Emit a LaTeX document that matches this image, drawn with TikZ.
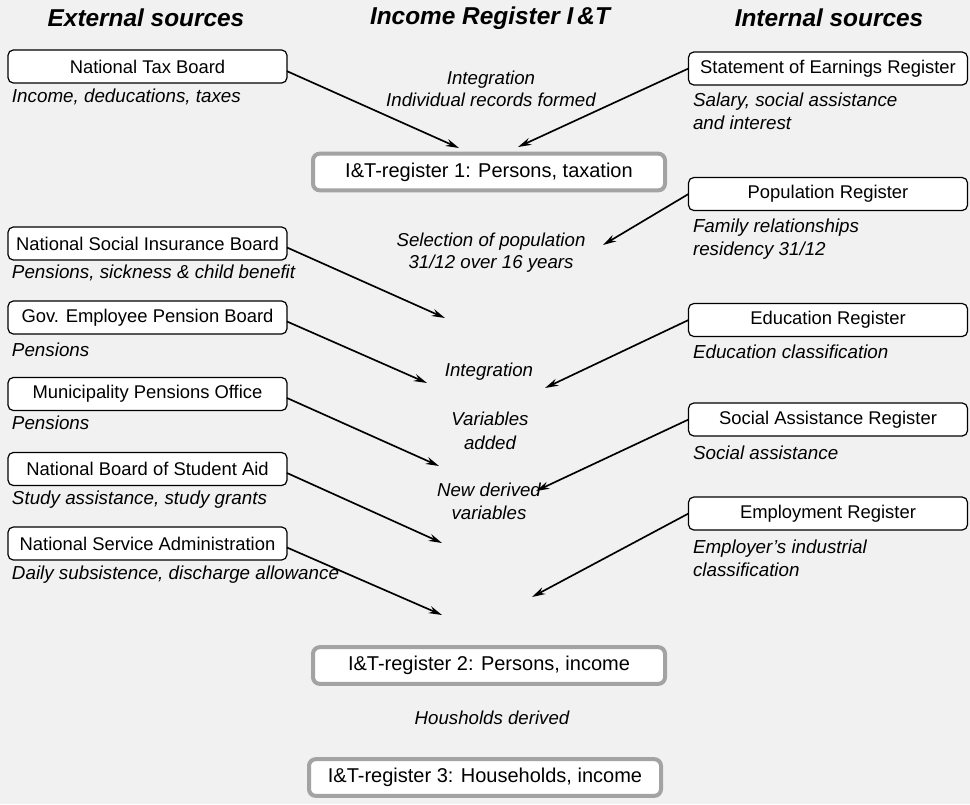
\documentclass[tikz,border=0pt]{standalone}
\usepackage{fontspec}
\setmainfont{Liberation Sans}
\usetikzlibrary{arrows.meta}
\begin{document}
\begin{tikzpicture}[x=0.75pt,y=-0.75pt,
  every node/.style={inner sep=0pt, outer sep=0pt},
  txt/.style={font=\fontsize{13.8pt}{16pt}\selectfont},
  src/.style={txt, draw, fill=white, line width=0.9pt, rounded corners=4pt,
              minimum width=209.25pt, minimum height=24.75pt},
  reg/.style={font=\fontsize{15pt}{17pt}\selectfont, draw=gray!72, line width=3pt,
              fill=white, rounded corners=5pt, minimum width=264pt, minimum height=27.5pt},
  captxt/.style={font=\fontsize{14.1pt}{17.5pt}\selectfont\itshape, anchor=west, align=left},
  mid/.style={font=\fontsize{14pt}{16.5pt}\selectfont\itshape, align=center},
  head/.style={font=\fontsize{18.3pt}{20pt}\selectfont\bfseries\itshape},
  arr/.style={-{Stealth[length=10pt,width=5.5pt]}, line width=1.25pt}]
\fill[gray!11] (0,0) rectangle (970,804);
\useasboundingbox (0,0) rectangle (970,804);

% headings
\node[head] (hext) at (146,18) {External sources};
\node[head] (hinc) at (490,18) {Income Register I\,\&T};
\node[head] (hint) at (829,18) {Internal sources};

% external sources
\node[src] (ntb)  at (147.5,66.5) {National Tax Board};
\node[captxt] (cntb) at (12,97) {Income, deducations, taxes};
\node[src] (nsib) at (147.5,243.5) {National Social Insurance Board};
\node[captxt] (cnsib) at (12,273) {Pensions, sickness \& child benefit};
\node[src] (gepb) at (147.5,317.5) {Gov. Employee Pension Board};
\node[captxt] (cgepb) at (12,350) {Pensions};
\node[src] (mpo)  at (147.5,394) {Municipality Pensions Office};
\node[captxt] (cmpo) at (12,423) {Pensions};
\node[src] (nbsa) at (147.5,469) {National Board of Student Aid};
\node[captxt] (cnbsa) at (12,500) {Study assistance, study grants};
\node[src] (nsa)  at (147.5,543.5) {National Service Administration};
\node[captxt] (cnsa) at (12,575) {Daily subsistence, discharge allowance};

% internal sources
\node[src] (soer) at (828,68.5) {Statement of Earnings Register};
\node[captxt] (csoer) at (693,111.5) {Salary, social assistance\\and interest};
\node[src] (pop)  at (828,194) {Population Register};
\node[captxt] (cpop) at (693,239) {Family relationships\\residency 31/12};
\node[src] (edu)  at (828,320) {Education Register};
\node[captxt] (cedu) at (693,352) {Education classification};
\node[src] (sar)  at (828,419.5) {Social Assistance Register};
\node[captxt] (csar) at (693,453) {Social assistance};
\node[src] (emp)  at (828,513.5) {Employment Register};
\node[captxt] (cemp) at (693,558.5) {Employer's industrial\\classification};

% income register column
\node[mid] (m1) at (491,88.5) {Integration\\Individual records formed};
\node[reg] (r1) at (489,172) {I\&T-register 1: Persons, taxation};
\node[mid] (m2) at (491,252.5) {Selection of population\\31/12 over 16 years};
\node[mid] (m3) at (489,372) {Integration};
\node[mid, font=\fontsize{14pt}{18pt}\selectfont\itshape] (m4) at (490,431) {Variables\\added};
\node[mid, font=\fontsize{14pt}{17.3pt}\selectfont\itshape] (m5) at (489,501.5) {New derived\\variables};
\node[reg] (r2) at (489,665.5) {I\&T-register 2: Persons, income};
\node[mid] (m6) at (492,718) {Housholds derived};
\node[reg] (r3) at (485,777.5) {I\&T-register 3: Households, income};

% arrow ends
\coordinate (a1) at (459,148);
\coordinate (a2) at (518,147);
\coordinate (a3) at (445,318);
\coordinate (a4) at (603,245);
\coordinate (a5) at (427,383);
\coordinate (a6) at (545,388);
\coordinate (a7) at (439,466);
\coordinate (a8) at (536,491);
\coordinate (a9) at (442,543);
\coordinate (a10) at (532,597);
\coordinate (a11) at (442,615);

\draw[arr] ([yshift=-3.5pt]ntb.east) -- (a1);
\draw[arr] (soer.west) -- (a2);
\draw[arr] ([yshift=-3pt]nsib.east) -- (a3);
\draw[arr] (pop.west) -- (a4);
\draw[arr] ([yshift=-3pt]gepb.east) -- (a5);
\draw[arr] (edu.west) -- (a6);
\draw[arr] ([yshift=-3pt]mpo.east) -- (a7);
\draw[arr] (sar.west) -- (a8);
\draw[arr] ([yshift=-3pt]nbsa.east) -- (a9);
\draw[arr] (emp.west) -- (a10);
\draw[arr] ([yshift=-3pt]nsa.east) -- (a11);
\end{tikzpicture}
\end{document}
